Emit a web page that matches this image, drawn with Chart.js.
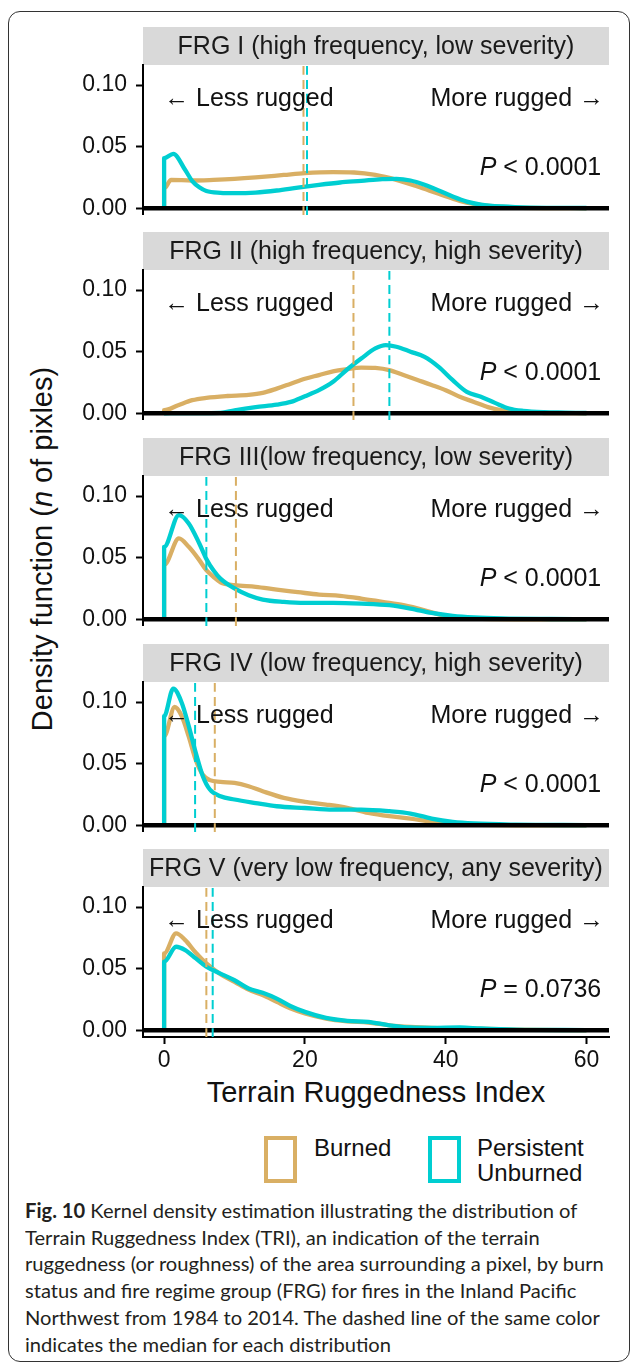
<!DOCTYPE html>
<html>
<head>
<meta charset="utf-8">
<script src="https://cdn.jsdelivr.net/npm/chart.js@4.4.1/dist/chart.umd.min.js"></script>
<style>
  body { margin: 0; background: #fff; }
  #fig { position: relative; width: 630px; height: 1364px; overflow: hidden; font-family: "Liberation Sans", Arial, sans-serif; color: #111; }
  #frame { position: absolute; left: 8px; top: 11px; width: 622px; height: 1351px; box-sizing: border-box; border: 1.5px solid #333; border-radius: 12px; }
  #fig canvas { position: absolute; left: 0; }
  .ytitle { position: absolute; left: -258px; top: 532px; width: 600px; text-align: center; font-size: 29px; line-height: 34px; transform: rotate(-90deg); white-space: nowrap; }
  .xtitle { position: absolute; left: 143px; width: 466px; top: 1075px; text-align: center; font-size: 29px; line-height: 34px; white-space: nowrap; }
  .lgbox { position: absolute; width: 33px; height: 47px; box-sizing: border-box; border: 4px solid; top: 1136px; }
  .lgtxt { position: absolute; top: 1135px; font-size: 24px; line-height: 25px; }
  #caption { position: absolute; left: 25px; top: 1197px; font-family: Lato, "Open Sans", sans-serif; font-size: 20px; line-height: 26.7px; color: #231f20; white-space: nowrap; transform-origin: 0 0; }
</style>
</head>
<body>
<div id="fig">
  <div id="frame"></div>
  <div class="ytitle">Density function (<i>n</i> of pixles)</div>
  <div class="xtitle">Terrain Ruggedness Index</div>
  <div class="lgbox" style="left:264px;border-color:#D9AF64"></div>
  <div class="lgtxt" style="left:314px">Burned</div>
  <div class="lgbox" style="left:428px;border-color:#00CED1"></div>
  <div class="lgtxt" style="left:477px">Persistent<br>Unburned</div>
  <div id="caption"><b>Fig. 10</b> Kernel density estimation illustrating the distribution of<br>Terrain Ruggedness Index (TRI), an indication of the terrain<br>ruggedness (or roughness) of the area surrounding a pixel, by burn<br>status and fire regime group (FRG) for fires in the Inland Pacific<br>Northwest from 1984 to 2014. The dashed line of the same color<br>indicates the median for each distribution</div>
</div>
<script>
// axis ranges and ticks
const X_MIN = -3.0, X_MAX = 63.2;
const Y_MIN = -0.0055, Y_MAX = 0.1163;
const X_TICKS = [0, 20, 40, 60];
const Y_TICKS = [0, 0.05, 0.10];

const PANEL_TITLES = [
  "FRG I (high frequency, low severity)",
  "FRG II (high frequency, high severity)",
  "FRG III(low frequency, low severity)",
  "FRG IV (low frequency, high severity)",
  "FRG V (very low frequency, any severity)"
];
const P_SIGNS = ["<", "<", "<", "<", "="];
const P_VALUES = ["0.0001", "0.0001", "0.0001", "0.0001", "0.0736"];
const MEDIAN_BURNED = [19.8, 26.9, 10.2, 7.2, 6.0];
const MEDIAN_UNBURNED = [20.3, 32.0, 6.0, 4.4, 6.9];

// density curves, [TRI, density]
const burned1 = [[0,0],[0,0.016],[1,0.023],[4,0.0225],[7,0.023],[10,0.0238],[13,0.025],[17,0.027],[20,0.0285],[24,0.0293],[27,0.029],[30,0.027],[33,0.023],[36,0.0176],[39,0.0117],[42,0.006],[44,0.0035],[47,0.0014],[50,0.0005],[55,0.0001],[60,0]];
const unburned1 = [[0,0],[0,0.0407],[1.3,0.0442],[3,0.031],[4,0.022],[5,0.017],[6,0.014],[8,0.0125],[10,0.0122],[13,0.0127],[16,0.0144],[19,0.0168],[22,0.019],[25,0.0209],[28,0.0222],[31,0.0236],[33,0.0238],[35,0.0225],[37,0.019],[39,0.0144],[41,0.0095],[43,0.0054],[45,0.003],[48,0.0014],[52,0.0005],[60,0.0002]];
const burned2 = [[0,0],[0,0.0024],[2,0.0065],[4,0.0106],[6,0.0125],[9,0.014],[12,0.0149],[14,0.0165],[16,0.02],[18,0.024],[20,0.028],[22,0.031],[24,0.034],[26,0.0358],[28,0.0371],[30,0.0368],[32,0.035],[34,0.031],[36,0.027],[38,0.023],[40,0.0187],[42,0.0133],[44,0.0092],[46,0.005],[48,0.0024],[50,0.001],[54,0.0002],[60,0]];
const unburned2 = [[0,0],[8,0.0003],[10,0.0024],[13,0.005],[16,0.007],[18,0.0092],[20,0.0138],[22,0.0187],[24,0.0255],[26,0.0355],[28,0.0444],[30,0.0526],[31.5,0.0553],[33,0.054],[35,0.05],[37,0.0458],[39,0.0377],[41,0.0268],[43,0.0173],[45,0.0133],[47,0.0084],[49,0.0038],[51,0.0019],[54,0.0008],[57,0.0005],[60,0.0002]];
const burned3 = [[0,0],[0,0.044],[2.1,0.0656],[3.5,0.0588],[5,0.048],[6,0.0398],[7,0.0344],[8,0.03],[10,0.0276],[13,0.0263],[16,0.024],[19,0.022],[22,0.02],[25,0.019],[28,0.0168],[31,0.0141],[34,0.0114],[37,0.0073],[39,0.004],[41,0.0019],[44,0.0005],[50,0],[60,0]];
const unburned3 = [[0,0],[0,0.0588],[2.1,0.0846],[3.5,0.0778],[5,0.0615],[6,0.049],[7,0.0398],[8,0.033],[10,0.025],[12,0.0195],[14,0.016],[17,0.0141],[20,0.0133],[24,0.0133],[28,0.0127],[32,0.0114],[35,0.0087],[38,0.0051],[41,0.0027],[44,0.0014],[48,0.0006],[55,0.0002],[60,0.0001]];
const burned4 = [[0,0],[0,0.072],[1.5,0.096],[2.5,0.0886],[3.5,0.072],[4.5,0.053],[5.5,0.041],[6.5,0.0366],[8,0.0352],[10,0.0344],[12,0.0317],[14,0.0276],[17,0.0222],[20,0.019],[23,0.0168],[26,0.0141],[29,0.01],[32,0.0073],[35,0.0054],[38,0.0027],[41,0.001],[45,0.0003],[50,0],[60,0]];
const unburned4 = [[0,0],[0,0.0886],[1.3,0.111],[2.5,0.0995],[3.5,0.0805],[4.5,0.0588],[5.5,0.0398],[6.5,0.029],[8,0.0236],[10,0.0209],[13,0.018],[16,0.0154],[20,0.014],[24,0.0127],[28,0.0127],[32,0.0114],[35,0.0095],[38,0.0054],[41,0.0027],[44,0.0014],[50,0.0005],[60,0.0001]];
const burned5 = [[0,0],[0,0.0623],[1.7,0.0786],[3,0.0732],[4.5,0.0629],[6,0.0542],[8,0.0455],[10,0.0393],[12,0.033],[14,0.0285],[16,0.023],[18,0.0176],[20,0.0136],[23,0.0095],[26,0.0073],[29,0.0062],[32,0.004],[35,0.0027],[38,0.0019],[42,0.0014],[46,0.001],[50,0.0005],[60,0]];
const unburned5 = [[0,0],[0,0.0556],[1.7,0.0678],[3,0.065],[4.5,0.0583],[6,0.0515],[8,0.046],[10,0.0406],[12,0.0339],[14,0.0304],[16,0.0257],[18,0.0195],[20,0.0149],[23,0.01],[26,0.0076],[29,0.0068],[32,0.004],[35,0.0022],[38,0.0019],[42,0.0022],[45,0.0014],[50,0.0005],[60,0.0001]];

const BURNED = [burned1, burned2, burned3, burned4, burned5];
const UNBURNED = [unburned1, unburned2, unburned3, unburned4, unburned5];

const TAN = "#D9AF64";
const CYAN = "#00CED1";

// layout (pixels)
const PLOT_TOPS = [65, 270, 476, 682, 887];
const STRIP_H = 38;
const TOP_PAD = 65;
const PLOT_H = 150;
const AXIS_W = 143;
const RIGHT_PAD = 21;
const XAXIS_H = 45;

const TXT_FONT = '"Liberation Sans", Arial, sans-serif';

const toPts = (arr) => arr.map(([x, y]) => ({ x, y }));

const panelDecor = {
  id: "panelDecor",
  beforeDraw(chart, args, opts) {
    const { ctx, chartArea: a } = chart;
    ctx.save();
    ctx.fillStyle = "#D9D9D9";
    ctx.fillRect(a.left, a.top - STRIP_H, a.right - a.left, STRIP_H);
    ctx.fillStyle = "#1a1a1a";
    ctx.font = "25px " + TXT_FONT;
    ctx.textAlign = "center";
    ctx.textBaseline = "middle";
    ctx.fillText(PANEL_TITLES[opts.index], (a.left + a.right) / 2, a.top - STRIP_H / 2 + 1);
    ctx.restore();
  },
  afterDatasetsDraw(chart, args, opts) {
    const { ctx } = chart;
    const xs = chart.scales.x, ys = chart.scales.y;
    const i = opts.index;
    ctx.save();
    ctx.fillStyle = "#111";
    ctx.textBaseline = "middle";
    ctx.font = "25px " + TXT_FONT;
    const ly = ys.getPixelForValue(0.089);
    ctx.textAlign = "left";
    ctx.fillText("\u2190 Less rugged", xs.getPixelForValue(0), ly);
    ctx.textAlign = "right";
    ctx.fillText("More rugged \u2192", xs.getPixelForValue(62.5), ly);
    // P value, italic P
    const py = ys.getPixelForValue(0.0325);
    const rest = " " + P_SIGNS[i] + " " + P_VALUES[i];
    const xr = xs.getPixelForValue(62.1);
    ctx.fillText(rest, xr, py);
    const wRest = ctx.measureText(rest).width;
    ctx.font = "italic 25px " + TXT_FONT;
    ctx.fillText("P", xr - wRest, py);
    ctx.restore();
  }
};

const fig = document.getElementById("fig");

PANEL_TITLES.forEach((title, i) => {
  const last = i === PANEL_TITLES.length - 1;
  const cv = document.createElement("canvas");
  cv.width = 630;
  cv.height = TOP_PAD + PLOT_H + (last ? XAXIS_H : 0);
  cv.style.top = (PLOT_TOPS[i] - TOP_PAD) + "px";
  fig.appendChild(cv);

  new Chart(cv, {
    type: "line",
    data: {
      datasets: [
        { data: toPts(BURNED[i]), borderColor: TAN, borderWidth: 4.3, order: 4 },
        { data: toPts(UNBURNED[i]), borderColor: CYAN, borderWidth: 4.3, order: 3 },
        { data: [{ x: X_MIN, y: 0 }, { x: X_MAX, y: 0 }], borderColor: "#000", borderWidth: 4.5, order: 2, cubicInterpolationMode: "default", tension: 0 },
        { data: [{ x: MEDIAN_BURNED[i], y: Y_MIN }, { x: MEDIAN_BURNED[i], y: Y_MAX }], borderColor: TAN, borderWidth: 2, borderDash: [9, 5], order: 1, tension: 0 },
        { data: [{ x: MEDIAN_UNBURNED[i], y: Y_MIN }, { x: MEDIAN_UNBURNED[i], y: Y_MAX }], borderColor: CYAN, borderWidth: 2, borderDash: [9, 5], order: 0, tension: 0 }
      ]
    },
    options: {
      responsive: false,
      animation: false,
      devicePixelRatio: 1,
      events: [],
      datasets: {
        line: { pointRadius: 0, fill: false, cubicInterpolationMode: "monotone", borderJoinStyle: "round" }
      },
      layout: { padding: { left: 0, right: RIGHT_PAD, top: TOP_PAD, bottom: 0 } },
      plugins: {
        legend: { display: false },
        tooltip: { enabled: false },
        panelDecor: { index: i }
      },
      scales: {
        x: {
          type: "linear",
          min: X_MIN,
          max: X_MAX,
          display: last,
          afterBuildTicks: (s) => { s.ticks = X_TICKS.map((v) => ({ value: v })); },
          afterFit: (s) => { if (last) { s.height = XAXIS_H; s.paddingLeft = 0; s.paddingRight = 0; } },
          ticks: { maxRotation: 0, padding: 3, color: "#111", font: { size: 23, family: TXT_FONT }, callback: (v) => String(v) },
          grid: { drawOnChartArea: false, tickLength: 7, tickWidth: 2, color: "#000" },
          border: { color: "#000", width: 2 }
        },
        y: {
          type: "linear",
          min: Y_MIN,
          max: Y_MAX,
          afterBuildTicks: (s) => { s.ticks = Y_TICKS.map((v) => ({ value: v })); },
          afterFit: (s) => { s.width = AXIS_W; s.paddingTop = 0; s.paddingBottom = 0; },
          ticks: { padding: 9, color: "#111", font: { size: 23, family: TXT_FONT }, callback: (v) => v.toFixed(2) },
          grid: { drawOnChartArea: false, tickLength: 7, tickWidth: 2, color: "#000" },
          border: { color: "#000", width: 2 }
        }
      }
    },
    plugins: [panelDecor]
  });
});

// squeeze the caption to the width of the printed one
const cap = document.getElementById("caption");
const k = 579 / cap.scrollWidth;
cap.style.transform = "scaleX(" + k + ")";
</script>
</body>
</html>
